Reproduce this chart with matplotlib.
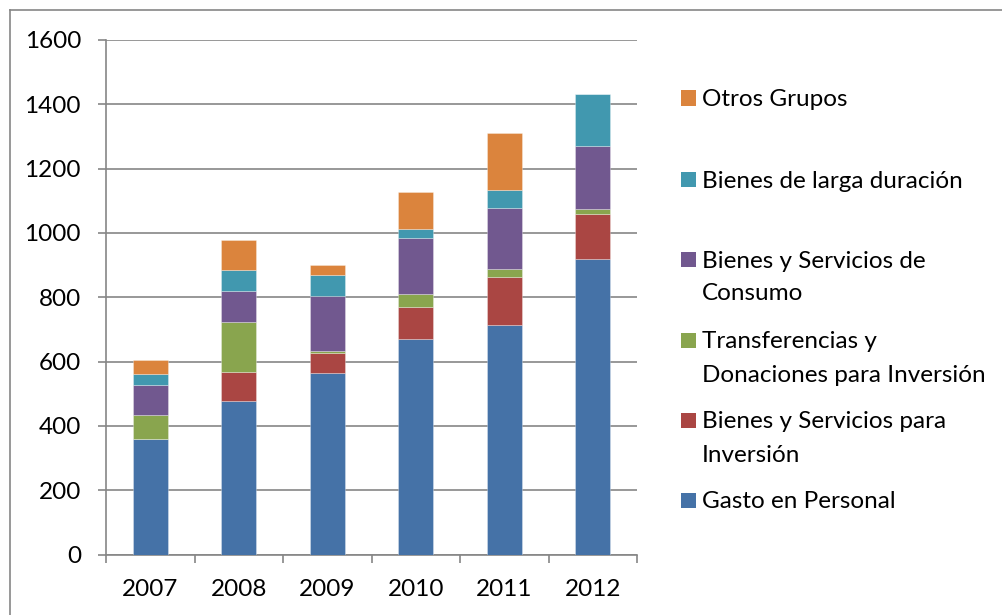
import matplotlib
matplotlib.use("Agg")
import matplotlib.pyplot as plt
from matplotlib.lines import Line2D
from matplotlib.patches import Rectangle
import numpy as np

plt.rcParams['font.family'] = ['Lato', 'DejaVu Sans']

years = ["2007", "2008", "2009", "2010", "2011", "2012"]
gasto_personal = [358, 476, 565, 671, 715, 918]
bys_inversion = [0, 93, 63, 100, 149, 140]
transferencias = [75, 154, 5, 39, 25, 16]
bys_consumo = [95, 95, 171, 175, 188, 196]
larga_duracion = [34, 68, 65, 27, 55, 162]
otros_grupos = [43, 91, 30, 115, 180, 0]

series = [
    ("Gasto en Personal", gasto_personal, "#4572A7"),
    ("Bienes y Servicios para\nInversión", bys_inversion, "#AA4643"),
    ("Transferencias y\nDonaciones para Inversión", transferencias, "#89A54E"),
    ("Bienes y Servicios de\nConsumo", bys_consumo, "#71588F"),
    ("Bienes de larga duración", larga_duracion, "#4198AF"),
    ("Otros Grupos", otros_grupos, "#DB843D"),
]

W, H = 1003, 615
FS = 17.5
fig = plt.figure(figsize=(W / 100, H / 100), dpi=100)
ax = fig.add_axes([106 / W, (H - 554.5) / H, (637 - 106) / W, (554.5 - 40) / H])

x = np.arange(len(years))
bottom = np.zeros(len(years))
for name, vals, col in series:
    v = np.array(vals, dtype=float)
    ax.bar(x, v, width=0.4, bottom=bottom, color=col, edgecolor=(1, 1, 1, 0.35), linewidth=0.6, zorder=3)
    bottom += v

grid_col = "#868686"
ax.set_ylim(0, 1600)
ax.set_xlim(-0.5, len(years) - 0.5)
ax.set_yticks(np.arange(0, 1601, 200))
ax.yaxis.grid(True, color=grid_col, linewidth=1.2, zorder=0)
ax.set_axisbelow(True)

ax.set_xticks(np.arange(-0.5, len(years), 1.0))
ax.set_xticklabels([])
ax.set_xticks(x, minor=True)
ax.set_xticklabels(years, minor=True)
ax.tick_params(axis='x', which='major', length=6, width=1.2, color=grid_col)
ax.tick_params(axis='x', which='minor', length=0, pad=18, labelsize=FS)
ax.tick_params(axis='y', length=6, width=1.2, color=grid_col, pad=12, labelsize=FS)

for s in ["top", "right"]:
    ax.spines[s].set_visible(False)
for s in ["left", "bottom"]:
    ax.spines[s].set_color(grid_col)
    ax.spines[s].set_linewidth(1.2)

# legend (manual placement)
legend_y = {
    "Otros Grupos": 98,
    "Bienes de larga duración": 179,
    "Bienes y Servicios de\nConsumo": 259,
    "Transferencias y\nDonaciones para Inversión": 340,
    "Bienes y Servicios para\nInversión": 420,
    "Gasto en Personal": 500,
}
for name, vals, col in series:
    yc = legend_y[name]
    fig.add_artist(Rectangle((681 / W, (H - yc - 7.5) / H), 15 / W, 15 / H,
                             transform=fig.transFigure, facecolor=col, edgecolor='none'))
    for i, line in enumerate(name.split("\n")):
        base = yc + 8.5 + 33 * i
        fig.text(702 / W, (H - base) / H, line, fontsize=FS, va='baseline', ha='left')

# outer frame (left and top)
fig.add_artist(Line2D([10 / W, 10 / W], [0, (H - 10) / H], transform=fig.transFigure, color=grid_col, linewidth=1.2))
fig.add_artist(Line2D([10 / W, 1], [(H - 10) / H, (H - 10) / H], transform=fig.transFigure, color=grid_col, linewidth=1.2))

fig.savefig("out.png", dpi=100, facecolor="white")
